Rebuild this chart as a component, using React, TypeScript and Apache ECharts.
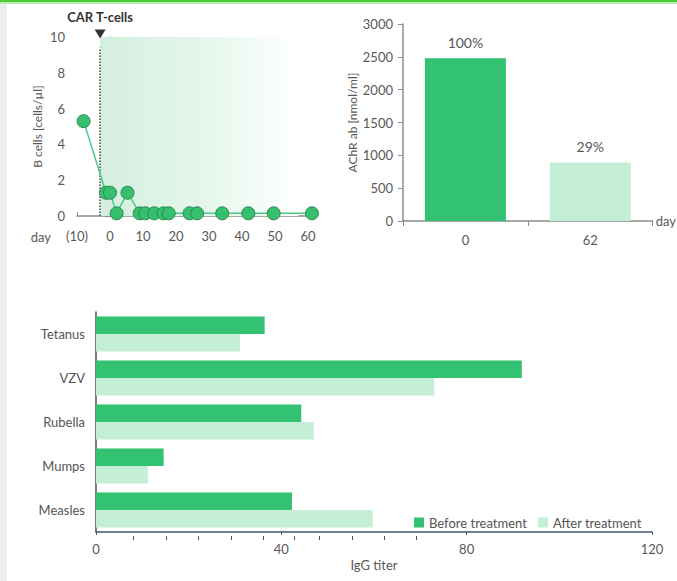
import React, { useEffect, useRef } from "react";
import * as echarts from "echarts";

// ---- data ----
const bCellDays = [-8, -1.2, 0, 2, 5.3, 9, 10.7, 13.4, 16.2, 17.8, 24.1, 26.4, 34, 41.9, 49.6, 61.2];
const bCellValues = [5.3, 1.3, 1.3, 0.15, 1.3, 0.15, 0.15, 0.15, 0.15, 0.15, 0.15, 0.15, 0.15, 0.15, 0.15, 0.15];
const carTDay = -3;
const carTLabel = "CAR T-cells";
const shadeEndDay = 57;

const achrDays = ["0", "62"];
const achrValues = [2480, 890];
const achrLabels = ["100%", "29%"];

const viruses = ["Measles", "Mumps", "Rubella", "VZV", "Tetanus"];
const beforeTiters = [42.3, 14.6, 44.3, 91.9, 36.4];
const afterTiters = [59.7, 11.2, 47.0, 73.0, 31.1];
const minorTicks = [8.0, 15.1, 22.0, 29.1, 36.0, 42.7, 48.1, 55.3, 62.2, 69.1];
const seriesNames = ["Before treatment", "After treatment"];

const DARK = "#33c172";
const LIGHT = "#c5eed7";
const GRAY = "#8c8c8c";
const LABEL = "#595959";
const SLATE = "#44546a";
const FONT = "Lato";

export default function App() {
  const ref = useRef<HTMLDivElement>(null);
  useEffect(() => {
    document.body.style.margin = "0";
    const chart = echarts.init(ref.current!, null, { renderer: "svg" });
    const option: any = {
      animation: false,
      textStyle: { fontFamily: FONT },
      graphic: [
        { type: "rect", shape: { x: 0, y: 0, width: 7, height: 581 }, style: { fill: "#e9eff1" }, silent: true },
        { type: "rect", shape: { x: 0, y: 0, width: 677, height: 2 }, style: { fill: "#4fce3a" }, silent: true },
        { type: "rect", shape: { x: 0, y: 2, width: 677, height: 2 }, style: { fill: "#bdebb4" }, silent: true },
      ],
      grid: [
        { left: 77, top: 37, width: 231, height: 179 },
        { left: 403, top: 24, width: 250, height: 197 },
        { left: 96, top: 312, width: 556, height: 220 },
      ],
      legend: {
        data: seriesNames,
        left: 409,
        top: 511,
        itemWidth: 10,
        itemHeight: 10,
        itemGap: 11,
        icon: "rect",
        textStyle: { fontSize: 13, color: "#555", fontFamily: FONT },
      },
      xAxis: [
        {
          gridIndex: 0,
          type: "value",
          min: -10,
          max: 60,
          interval: 10,
          name: "day",
          nameLocation: "start",
          nameGap: 26,
          nameTextStyle: { fontSize: 13, color: LABEL, verticalAlign: "top", padding: [14, 0, 0, 0] },
          axisLine: { show: true, lineStyle: { color: GRAY, width: 1.5 } },
          axisTick: { show: true, inside: true, length: 4, lineStyle: { color: GRAY } },
          axisLabel: {
            fontSize: 13,
            color: LABEL,
            margin: 13,
            formatter: (v: number) => (v < 0 ? `(${-v})` : `${v}`),
          },
          splitLine: { show: false },
        },
        {
          gridIndex: 1,
          type: "category",
          data: achrDays,
          name: "day",
          nameLocation: "end",
          nameGap: 3,
          nameTextStyle: { fontSize: 13, color: LABEL },
          axisLine: { lineStyle: { color: GRAY, width: 1.5 } },
          axisTick: { show: true, alignWithLabel: false, length: 5, lineStyle: { color: GRAY } },
          axisLabel: { fontSize: 13, color: LABEL, margin: 12 },
        },
        {
          gridIndex: 2,
          type: "value",
          min: 0,
          max: 120,
          interval: 40,
          name: "IgG titer",
          nameLocation: "middle",
          nameGap: 26,
          nameTextStyle: { fontSize: 13, color: LABEL },
          axisLine: { show: true, lineStyle: { color: SLATE, width: 1.5 } },
          axisTick: { show: true, length: 3, lineStyle: { color: SLATE } },
          axisLabel: { fontSize: 13, color: LABEL, margin: 10 },
          splitLine: { show: false },
        },
        {
          gridIndex: 2,
          type: "value",
          min: 0,
          max: 120,
          position: "bottom",
          offset: 4,
          axisLine: { show: false },
          axisTick: { show: true, length: 4, customValues: minorTicks, lineStyle: { color: SLATE } },
          axisLabel: { show: false },
          splitLine: { show: false },
        },
      ],
      yAxis: [
        {
          gridIndex: 0,
          type: "value",
          min: 0,
          max: 10,
          interval: 2,
          name: "B cells [cells/µl]",
          nameLocation: "middle",
          nameGap: 34,
          nameTextStyle: { fontSize: 12, color: LABEL },
          axisLine: { show: true, lineStyle: { color: GRAY, width: 1.5 } },
          axisTick: { show: true, length: 5, lineStyle: { color: GRAY } },
          axisLabel: { fontSize: 13, color: LABEL, margin: 12 },
          splitLine: { show: false },
        },
        {
          gridIndex: 1,
          type: "value",
          min: 0,
          max: 3000,
          interval: 500,
          name: "AChR ab [nmol/ml]",
          nameLocation: "middle",
          nameGap: 40,
          nameTextStyle: { fontSize: 12, color: LABEL },
          axisLine: { show: true, lineStyle: { color: GRAY, width: 1.5 } },
          axisTick: { show: true, length: 5, lineStyle: { color: GRAY } },
          axisLabel: { fontSize: 13, color: LABEL, margin: 10, formatter: (v: number) => `${v}` },
          splitLine: { show: false },
        },
        {
          gridIndex: 2,
          type: "category",
          data: viruses,
          axisLine: { show: true, lineStyle: { color: SLATE, width: 1.5 } },
          axisTick: { show: false },
          axisLabel: { fontSize: 13, color: "#555", margin: 11 },
        },
      ],
      series: [
        {
          type: "line",
          xAxisIndex: 0,
          yAxisIndex: 0,
          clip: false,
          data: bCellDays.map((d, i) => [d, bCellValues[i]]),
          symbol: "circle",
          symbolSize: 13,
          lineStyle: { color: "#4cc985", width: 1.5 },
          itemStyle: { color: "#36bf6f", borderColor: "#2b8a50", borderWidth: 1 },
          z: 5,
          markArea: {
            silent: true,
            itemStyle: {
              color: {
                type: "linear",
                x: 0,
                y: 0,
                x2: 1,
                y2: 0,
                colorStops: [
                  { offset: 0, color: "#d3efde" },
                  { offset: 0.5, color: "#e4f6eb" },
                  { offset: 1, color: "#ffffff" },
                ],
              },
            },
            data: [[{ xAxis: carTDay }, { xAxis: shadeEndDay }]],
          },
          markLine: {
            silent: true,
            symbol: "none",
            label: { show: false },
            lineStyle: { type: "dotted", color: "#444", width: 1.5 },
            data: [[{ coord: [carTDay, 0] }, { coord: [carTDay, 9.4] }]],
          },
          markPoint: {
            silent: true,
            symbol: "triangle",
            symbolRotate: 180,
            symbolSize: [11, 9],
            symbolOffset: [0, -3],
            itemStyle: { color: "#333" },
            label: {
              show: true,
              position: "top",
              distance: 6,
              formatter: carTLabel,
              fontSize: 13,
              fontWeight: "bold",
              color: "#333",
              fontFamily: FONT,
            },
            data: [{ coord: [carTDay, 10] }],
          },
        },
        {
          type: "bar",
          xAxisIndex: 1,
          yAxisIndex: 1,
          barWidth: 81,
          data: achrValues.map((v, i) => ({
            value: v,
            itemStyle: { color: i === 0 ? DARK : LIGHT },
            label: { formatter: achrLabels[i] },
          })),
          label: { show: true, position: "top", distance: 9, fontSize: 14, color: LABEL },
        },
        {
          name: seriesNames[0],
          type: "bar",
          xAxisIndex: 2,
          yAxisIndex: 2,
          data: beforeTiters,
          itemStyle: { color: DARK },
          barGap: "0%",
          barCategoryGap: "21%",
        },
        {
          name: seriesNames[1],
          type: "bar",
          xAxisIndex: 2,
          yAxisIndex: 2,
          data: afterTiters,
          itemStyle: { color: LIGHT },
          barGap: "0%",
          barCategoryGap: "21%",
        },
      ],
    };
    chart.setOption(option);
    return () => chart.dispose();
  }, []);
  return <div ref={ref} style={{ width: 677, height: 581 }} />;
}
